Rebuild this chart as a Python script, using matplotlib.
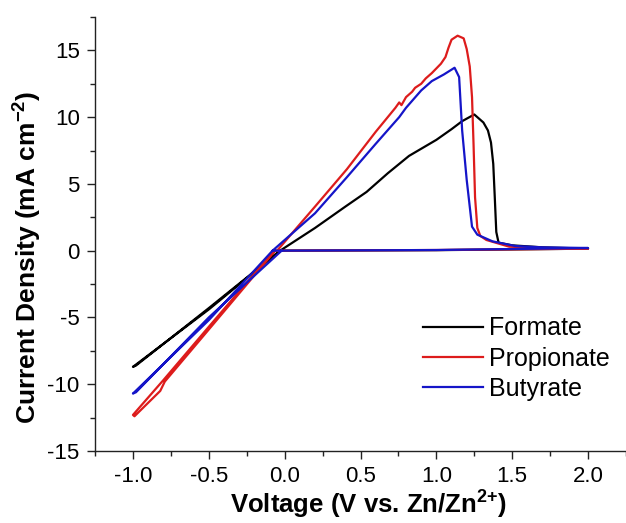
import matplotlib
matplotlib.use("Agg")
import matplotlib.pyplot as plt
from matplotlib.ticker import MultipleLocator, FormatStrFormatter

plt.rcParams['font.family'] = ['Liberation Sans', 'DejaVu Sans']
plt.rcParams['mathtext.fontset'] = 'custom'
plt.rcParams['mathtext.bf'] = 'Liberation Sans:bold'
plt.rcParams['mathtext.rm'] = 'Liberation Sans'
plt.rcParams['axes.unicode_minus'] = False

# Formate: anodic sweep 0 -> 2 V, flat return, Zn deposition loop 0 -> -1 -> 0 V
formate_v = [-0.03, 0.2, 0.4, 0.54, 0.68, 0.82, 1.0, 1.1, 1.17, 1.25, 1.31, 1.34, 1.36,
             1.375, 1.385, 1.395, 1.41, 1.5, 1.7, 2.0,
             1.0, -0.03,
             -0.5, -1.0, -0.98, -0.5, -0.03]
formate_i = [0.0, 1.7, 3.3, 4.4, 5.8, 7.1, 8.3, 9.1, 9.7, 10.2, 9.6, 9.0, 8.1,
             6.5, 4.0, 1.4, 0.6, 0.4, 0.25, 0.15,
             0.04, 0.0,
             -4.4, -8.7, -8.6, -4.3, 0.0]

propionate_v = [-0.05, 0.2, 0.41, 0.6, 0.73, 0.755, 0.77, 0.8, 0.84, 0.86, 0.9, 0.93, 0.97,
                1.03, 1.06, 1.08, 1.10, 1.14, 1.18, 1.20, 1.22, 1.235, 1.245, 1.255, 1.27,
                1.29, 1.33, 1.48, 1.7, 2.0,
                1.0, -0.07,
                -0.5, -0.8, -1.0, -0.99, -0.82, -0.79, -0.5, -0.07]
propionate_i = [0.0, 3.3, 6.1, 8.9, 10.7, 11.1, 10.9, 11.5, 11.9, 12.2, 12.5, 12.9, 13.3,
                14.0, 14.5, 15.2, 15.8, 16.1, 15.9, 15.1, 13.8, 11.5, 8.0, 4.0, 1.7,
                1.1, 0.8, 0.3, 0.2, 0.15,
                0.05, 0.0,
                -5.7, -9.7, -12.3, -12.4, -10.5, -9.8, -5.9, -0.1]

butyrate_v = [-0.08, 0.2, 0.41, 0.6, 0.755, 0.8, 0.9, 0.97, 1.05, 1.12, 1.15, 1.17, 1.20,
              1.235, 1.27, 1.37, 1.52, 1.7, 2.0,
              1.0, -0.08,
              -0.5, -1.0, -0.98, -0.5, -0.02]
butyrate_i = [0.0, 2.8, 5.5, 8.0, 10.0, 10.7, 12.0, 12.7, 13.2, 13.7, 13.0, 9.0, 5.3,
              1.8, 1.2, 0.7, 0.35, 0.25, 0.2,
              0.05, 0.0,
              -5.2, -10.7, -10.6, -5.0, 0.0]

labels = ['Formate', 'Propionate', 'Butyrate']
colors = ['#000000', '#dd1c1c', '#1515c8']

fig = plt.figure(figsize=(6.26, 5.23), dpi=100)
ax = fig.add_axes([0.1518, 0.1377, 0.8482, 0.8298])

for v, i, lab, c in zip([formate_v, propionate_v, butyrate_v],
                        [formate_i, propionate_i, butyrate_i], labels, colors):
    ax.plot(v, i, color=c, lw=1.6, label=lab)

ax.set_xlim(-1.25, 2.25)
ax.set_ylim(-15, 17.5)
ax.xaxis.set_major_locator(MultipleLocator(0.5))
ax.xaxis.set_minor_locator(MultipleLocator(0.25))
ax.yaxis.set_major_locator(MultipleLocator(5))
ax.yaxis.set_minor_locator(MultipleLocator(2.5))
ax.xaxis.set_major_formatter(FormatStrFormatter('%.1f'))
ax.yaxis.set_major_formatter(FormatStrFormatter('%d'))

for s in ['top', 'right']:
    ax.spines[s].set_visible(False)
for s in ['left', 'bottom']:
    ax.spines[s].set_linewidth(1.0)
    ax.spines[s].set_color('#222222')

ax.tick_params(which='major', direction='out', length=6, width=1.0, labelsize=16,
               color='#222222', pad=5)
ax.tick_params(which='minor', direction='out', length=3.5, width=1.0, color='#222222')

ax.set_xlabel('Voltage (V vs. Zn/Zn$^{\\mathbf{2{+}}}$)', fontsize=18.5, fontweight='bold')
ax.xaxis.set_label_coords(0.515, -0.083)
ax.set_ylabel('Current Density (mA cm$^{\\mathbf{{-}2}}$)', fontsize=19, fontweight='bold')
ax.yaxis.set_label_coords(-0.098, 0.447)

ax.legend(loc='upper left', bbox_to_anchor=(0.675, 0.395), bbox_transform=fig.transFigure,
          frameon=False, fontsize=18, handlelength=2.4, handletextpad=0.25,
          labelspacing=0.25, borderpad=0, borderaxespad=0)

fig.savefig('out.png', dpi=100)
